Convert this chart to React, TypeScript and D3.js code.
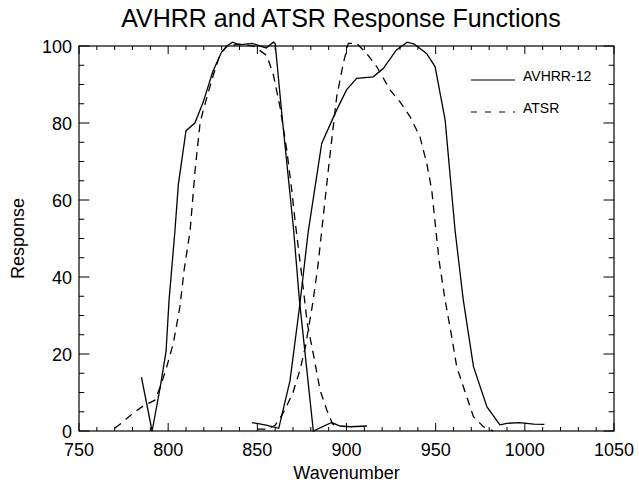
import React from "react";
import * as d3 from "d3";

const xTickValues = [750, 800, 850, 900, 950, 1000, 1050];
const yTickValues = [0, 20, 40, 60, 80, 100];

const avhrrBand1: [number, number][] = [
  [785, 14], [791, 0], [795.4, 11], [798.8, 20.6], [800.5, 34], [803.8, 52],
  [805.7, 64], [810, 78], [815, 80], [819.7, 85.5], [825, 93.3], [830, 98.5],
  [833, 100], [836, 101], [840, 100.3], [847, 100.7], [855, 99.5], [859, 101],
  [860, 100.7], [863.7, 82.5], [870.2, 53], [873.6, 34], [881.4, 0],
  [891.7, 2.2], [896.4, 1.3], [902, 1.1], [911.4, 1.3],
];

const avhrrBand2: [number, number][] = [
  [847, 2.2], [855, 1.5], [862, 0.7], [868.3, 13], [873.6, 32], [878.6, 52],
  [886.1, 74.7], [893.6, 82.5], [900, 88.6], [905.7, 91.6], [915, 92],
  [920.7, 94.2], [928, 99], [934, 101], [938, 100.5], [945, 98], [949.7, 94.6],
  [952.5, 87.7], [955.3, 80.8], [960.9, 52], [965.5, 34], [971.2, 16.7],
  [978.7, 6.3], [986, 1.6], [990, 2], [997, 2.2], [1005, 1.8], [1011, 1.7],
];

const atsrBand1: [number, number][] = [
  [770, 0.7], [775, 2.5], [780, 4.5], [786, 6.5], [792.6, 8], [796, 12],
  [799.2, 16.7], [802.9, 22.8], [806.6, 32.3], [809, 42], [812.3, 52],
  [815.1, 67.8], [817.9, 80], [819.7, 83.4], [825, 92], [829, 97.7], [833, 100],
  [840, 100.5], [848, 100], [855.3, 97.5], [859, 92.5], [862.7, 84.2],
  [866.5, 73], [869.3, 62.6], [871.1, 54.8], [875, 40], [878, 28], [881.4, 20],
  [885.2, 10.6], [888.9, 5.5], [892, 2], [895, 0.5],
];

const atsrBand2: [number, number][] = [
  [850, 0.5], [856, 0.5], [860, 1.5], [862.7, 3.3], [866, 6], [870, 10],
  [874, 16], [877, 22], [881, 33], [884, 43], [886.1, 52], [889.8, 67.8],
  [894.5, 86.8], [898.2, 95.5], [901, 100.7], [905.7, 100.7], [911.4, 98],
  [917, 94.6], [924.4, 88.6], [930, 85.5], [935.7, 81.6], [941.2, 76.4],
  [945, 69.5], [947.8, 62.6], [949.7, 54], [952, 44], [955.3, 34], [959, 24.5],
  [961.8, 16.7], [967.4, 8.9], [971.2, 3.7], [976.8, 1.1], [982.4, 0],
];

const legendLabels = ["AVHRR-12", "ATSR"];

const W = 639;
const H = 485;
const left = 79;
const right = 614;
const top = 46;
const bottom = 431;
const FONT = "'Liberation Sans', Arial, Helvetica, sans-serif";

export default function App() {
  const x = d3.scaleLinear().domain([750, 1050]).range([left, right]);
  const y = d3.scaleLinear().domain([0, 100]).range([bottom, top]);
  const line = d3
    .line<[number, number]>()
    .x((d) => x(d[0]))
    .y((d) => y(d[1]));

  const xMinor = d3.range(750, 1051, 10);
  const yMinor = d3.range(0, 101, 5);
  const xMajLen = 8;
  const xMinLen = 4;
  const yMajLen = 10.5;
  const yMinLen = 5.3;

  const dash = "8,6";

  return (
    <svg
      width={W}
      height={H}
      style={{ position: "absolute", left: 0, top: 0, background: "#fff" }}
      fontFamily={FONT}
    >
      <rect x={0} y={0} width={W} height={H} fill="#fff" />
      <text x={341} y={27} textAnchor="middle" fontSize={25}>
        AVHRR and ATSR Response Functions
      </text>

      {/* frame */}
      <rect
        x={left}
        y={top}
        width={right - left}
        height={bottom - top}
        fill="none"
        stroke="#000"
        strokeWidth={1.2}
      />

      {/* x ticks */}
      {xMinor.map((v) => {
        const major = v % 50 === 0;
        const len = major ? xMajLen : xMinLen;
        return (
          <g key={"xt" + v}>
            <line x1={x(v)} x2={x(v)} y1={bottom} y2={bottom - len} stroke="#000" strokeWidth={1} />
            <line x1={x(v)} x2={x(v)} y1={top} y2={top + len} stroke="#000" strokeWidth={1} />
          </g>
        );
      })}
      {yMinor.map((v) => {
        const major = v % 20 === 0;
        const len = major ? yMajLen : yMinLen;
        return (
          <g key={"yt" + v}>
            <line x1={left} x2={left + len} y1={y(v)} y2={y(v)} stroke="#000" strokeWidth={1} />
            <line x1={right} x2={right - len} y1={y(v)} y2={y(v)} stroke="#000" strokeWidth={1} />
          </g>
        );
      })}

      {xTickValues.map((v) => (
        <text key={"xl" + v} x={x(v)} y={456} textAnchor="middle" fontSize={18}>
          {v}
        </text>
      ))}
      {yTickValues.map((v) => (
        <text key={"yl" + v} x={72} y={y(v) + 6.5} textAnchor="end" fontSize={18}>
          {v}
        </text>
      ))}

      <text x={(left + right) / 2} y={479} textAnchor="middle" fontSize={18}>
        Wavenumber
      </text>
      <text
        transform={`translate(24, ${(top + bottom) / 2}) rotate(-90)`}
        textAnchor="middle"
        fontSize={18}
      >
        Response
      </text>

      {/* curves */}
      <path d={line(avhrrBand1) || ""} fill="none" stroke="#000" strokeWidth={1.3} />
      <path d={line(avhrrBand2) || ""} fill="none" stroke="#000" strokeWidth={1.3} />
      <path d={line(atsrBand1) || ""} fill="none" stroke="#000" strokeWidth={1.3} strokeDasharray={dash} />
      <path d={line(atsrBand2) || ""} fill="none" stroke="#000" strokeWidth={1.3} strokeDasharray={dash} />

      {/* legend */}
      <line x1={471} x2={515} y1={80} y2={80} stroke="#000" strokeWidth={1.2} />
      <text x={523} y={81} fontSize={14}>{legendLabels[0]}</text>
      <line x1={471} x2={515} y1={112} y2={112} stroke="#000" strokeWidth={1.2} strokeDasharray="6,8" />
      <text x={523} y={113} fontSize={14}>{legendLabels[1]}</text>
    </svg>
  );
}
